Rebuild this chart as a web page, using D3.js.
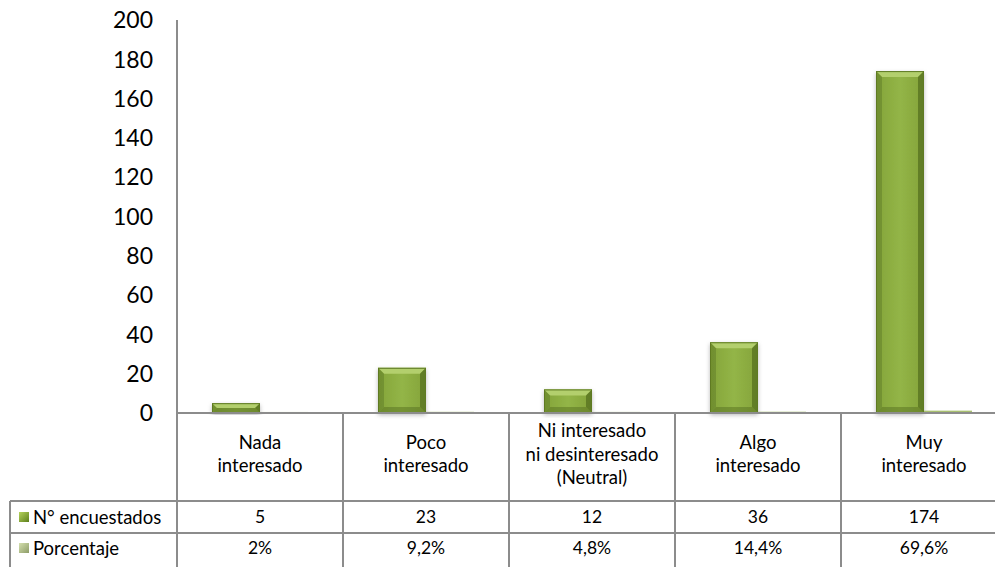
<!DOCTYPE html>
<html><head><meta charset="utf-8">
<script src="https://cdn.jsdelivr.net/npm/d3@7"></script>
<style>html,body{margin:0;padding:0;background:#fff;}svg{display:block;font-family:Lato,"Open Sans",sans-serif;}</style>
</head><body>
<svg id="c" width="995" height="567"></svg>
<script>
const categories = [["Nada","interesado"],["Poco","interesado"],["Ni interesado","ni desinteresado","(Neutral)"],["Algo","interesado"],["Muy","interesado"]];
const seriesNames = ["N° encuestados","Porcentaje"];
const encuestados = [5, 23, 12, 36, 174];
const porcentaje = [0.02, 0.092, 0.048, 0.144, 0.696];
const porcentajeLabels = ["2%","9,2%","4,8%","14,4%","69,6%"];
const yTicks = [0,20,40,60,80,100,120,140,160,180,200];

(function(){
const svg = d3.select("#c");
const W = 995;
const pLeft = 177, pRight = 1007, pTop = 20, base = 413;
const tableLeft = 10;
const rowY = [base, 501, 533, 567];

const idx = categories.map((d,i)=>i);
const x = d3.scaleBand().domain(idx).range([pLeft,pRight]).paddingInner(0.4217).paddingOuter(0.4217/2);
const xs = d3.scaleBand().domain([0,1]).range([0,x.bandwidth()]);
const xc = d3.scaleBand().domain(idx).range([pLeft,pRight]);
const y = d3.scaleLinear().domain([0,200]).range([base,pTop]);

const defs = svg.append("defs");
const f = defs.append("filter").attr("id","sh").attr("x","-20%").attr("y","-20%").attr("width","140%").attr("height","140%");
f.append("feDropShadow").attr("dx",0).attr("dy",2).attr("stdDeviation",2).attr("flood-color","#000").attr("flood-opacity",0.28);
const g1 = defs.append("linearGradient").attr("id","body1").attr("x1",0).attr("x2",1).attr("y1",0).attr("y2",0);
g1.append("stop").attr("offset","0%").attr("stop-color","#84a43a");
g1.append("stop").attr("offset","50%").attr("stop-color","#93b547");
g1.append("stop").attr("offset","100%").attr("stop-color","#84a33a");
const k1 = defs.append("linearGradient").attr("id","key1").attr("x1",0).attr("x2",1).attr("y1",0).attr("y2",1);
k1.append("stop").attr("offset","0%").attr("stop-color","#b5d25c");
k1.append("stop").attr("offset","100%").attr("stop-color","#5d7f1c");
const k2 = defs.append("linearGradient").attr("id","key2").attr("x1",0).attr("x2",1).attr("y1",0).attr("y2",1);
k2.append("stop").attr("offset","0%").attr("stop-color","#d4dfae");
k2.append("stop").attr("offset","100%").attr("stop-color","#8d9c67");

svg.append("g").selectAll("text").data(yTicks).join("text")
  .attr("x",153).attr("y",d=>y(d)).attr("dy","0.36em").attr("text-anchor","end")
  .attr("font-size",23).attr("fill","#000").text(d=>d);

function bevelBar(g, bx, by, bw, bh, fillBody, light, dark, outline){
  const b = Math.min(6, bh/2, bw/2);
  const gg = g.append("g").attr("filter","url(#sh)");
  gg.append("rect").attr("x",bx).attr("y",by).attr("width",bw).attr("height",bh).attr("fill",fillBody);
  gg.append("path").attr("d",`M${bx},${by}L${bx+bw},${by}L${bx+bw-b},${by+b}L${bx+b},${by+b}Z`).attr("fill",light);
  gg.append("path").attr("d",`M${bx},${by}L${bx+b},${by+b}L${bx+b},${by+bh-b}L${bx},${by+bh}Z`).attr("fill",dark).attr("opacity",0.4);
  gg.append("path").attr("d",`M${bx+bw},${by}L${bx+bw-b},${by+b}L${bx+bw-b},${by+bh-b}L${bx+bw},${by+bh}Z`).attr("fill",dark).attr("opacity",0.75);
  gg.append("path").attr("d",`M${bx},${by+bh}L${bx+b},${by+bh-b}L${bx+bw-b},${by+bh-b}L${bx+bw},${by+bh}Z`).attr("fill",dark).attr("opacity",0.5);
  gg.append("rect").attr("x",bx+0.5).attr("y",by+0.5).attr("width",bw-1).attr("height",Math.max(0,bh-1)).attr("fill","none").attr("stroke",outline).attr("stroke-width",1);
}
const bars = svg.append("g");
encuestados.forEach((v,i)=>{
  const bx = x(i)+xs(0), bw = xs.bandwidth();
  bevelBar(bars, bx, y(v), bw, base - y(v), "url(#body1)", "#b3cf6d", "#56701f", "#5e7a24");
});
porcentaje.forEach((v,i)=>{
  const bx = x(i)+xs(1), bw = xs.bandwidth();
  bars.append("rect").attr("x",bx).attr("y",y(v)-1).attr("width",bw).attr("height",Math.max(1.2, base-y(v)+1)).attr("fill","#a9c171");
});

const lines = svg.append("g").attr("stroke","#8c8c8c").attr("stroke-width",2);
lines.append("line").attr("x1",pLeft).attr("x2",pLeft).attr("y1",pTop).attr("y2",567);
lines.append("line").attr("x1",pLeft).attr("x2",W+20).attr("y1",base).attr("y2",base);
lines.append("line").attr("x1",tableLeft).attr("x2",W+20).attr("y1",rowY[1]).attr("y2",rowY[1]);
lines.append("line").attr("x1",tableLeft).attr("x2",W+20).attr("y1",rowY[2]).attr("y2",rowY[2]);
lines.append("line").attr("x1",tableLeft).attr("x2",tableLeft).attr("y1",rowY[1]).attr("y2",567);
idx.slice(1).forEach(i=>{
  lines.append("line").attr("x1",xc(i)).attr("x2",xc(i)).attr("y1",base).attr("y2",567);
});

const cat = svg.append("g").attr("font-size",18.5).attr("fill","#000").attr("text-anchor","middle");
categories.forEach((lbl,i)=>{
  const cx = xc(i)+xc.bandwidth()/2;
  const cy = (rowY[0]+rowY[1])/2 - 3;
  const lh = 23.5;
  lbl.forEach((t,j)=>{
    cat.append("text").attr("x",cx).attr("y",cy + (j-(lbl.length-1)/2)*lh).attr("dy","0.36em").text(t);
  });
});

const tv = svg.append("g").attr("font-size",17.5).attr("fill","#000").attr("text-anchor","middle");
encuestados.forEach((v,i)=>{
  tv.append("text").attr("x",xc(i)+xc.bandwidth()/2).attr("y",(rowY[1]+rowY[2])/2).attr("dy","0.36em").text(v);
});
porcentajeLabels.forEach((v,i)=>{
  tv.append("text").attr("x",xc(i)+xc.bandwidth()/2).attr("y",(rowY[2]+rowY[3])/2 - 2).attr("dy","0.36em").text(v);
});

const lg = svg.append("g").attr("font-size",18.5).attr("fill","#000");
seriesNames.forEach((s,j)=>{
  const cy = j===0 ? (rowY[1]+rowY[2])/2 : (rowY[2]+rowY[3])/2 - 2;
  lg.append("rect").attr("x",19).attr("y",cy-5).attr("width",10).attr("height",10).attr("fill",j===0?"url(#key1)":"url(#key2)");
  lg.append("text").attr("x",33).attr("y",cy).attr("dy","0.36em").text(s);
});
})();
</script>
</body></html>
